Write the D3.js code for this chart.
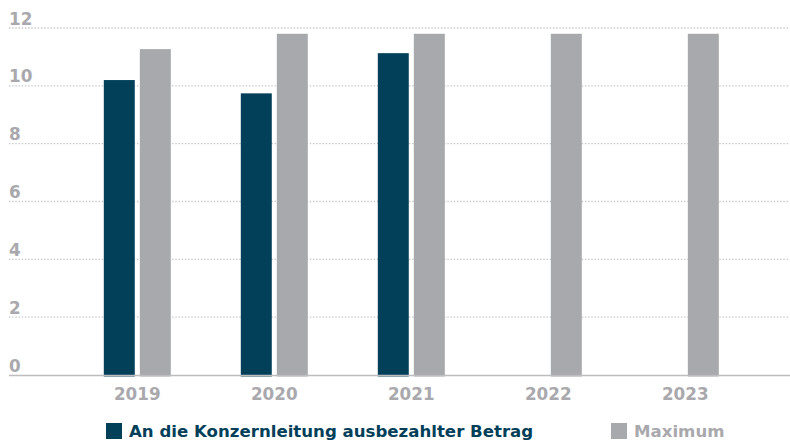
<!DOCTYPE html>
<html>
<head>
<meta charset="utf-8">
<script src="https://cdn.jsdelivr.net/npm/d3@7"></script>
<style>
  body { margin: 0; background: #fff; }
  svg { display: block; font-family: "DejaVu Sans", sans-serif; }
</style>
</head>
<body>
<div id="chart"></div>
<script>
// data
const years = ["2019", "2020", "2021", "2022", "2023"];
const paidValues = [10.2, 9.74, 11.13, null, null];
const maxValues = [11.27, 11.8, 11.8, 11.8, 11.8];
const yTicks = [0, 2, 4, 6, 8, 10, 12];
const seriesNames = ["An die Konzernleitung ausbezahlter Betrag", "Maximum"];

const colorPaid = "#02405a";
const colorMax = "#a8a9ac";
const colorText = "#a9a9ad";

const width = 790, height = 440;
const margin = {top: 28, right: 0, bottom: 65, left: 9};
const baseY = height - margin.bottom;

const svg = d3.select("#chart").append("svg")
    .attr("width", width)
    .attr("height", height);

const x = d3.scaleBand()
    .domain(years)
    .range([68.8, 753.8])
    .padding(0);

const xInner = d3.scaleBand()
    .domain(["paid", "max"])
    .range([-33.5, 33.5])
    .paddingInner(0.14);

const y = d3.scaleLinear()
    .domain([0, 12])
    .range([baseY, margin.top]);

// dotted gridlines
svg.append("g").selectAll("line")
    .data(yTicks.filter(d => d > 0))
    .enter().append("line")
    .attr("x1", margin.left)
    .attr("x2", width)
    .attr("y1", d => y(d))
    .attr("y2", d => y(d))
    .attr("stroke", "#c2c2c5")
    .attr("stroke-width", 1.3)
    .attr("stroke-dasharray", "1.3,1.9");

// y labels sit above the lines
svg.append("g").selectAll("text")
    .data(yTicks)
    .enter().append("text")
    .attr("x", 9)
    .attr("y", d => y(d) - 3.5)
    .attr("fill", colorText)
    .attr("font-size", 16.8)
    .attr("font-weight", 700)
    .text(d => d);

const rows = years.map((yr, i) => ({year: yr, paid: paidValues[i], max: maxValues[i]}));

const groups = svg.append("g").selectAll("g")
    .data(rows)
    .enter().append("g")
    .attr("transform", d => "translate(" + (x(d.year) + x.bandwidth() / 2) + ",0)");

groups.filter(d => d.paid != null).append("rect")
    .attr("x", xInner("paid"))
    .attr("y", d => y(d.paid))
    .attr("width", xInner.bandwidth())
    .attr("height", d => baseY + 1.5 - y(d.paid))
    .attr("fill", colorPaid);

groups.append("rect")
    .attr("x", xInner("max"))
    .attr("y", d => y(d.max))
    .attr("width", xInner.bandwidth())
    .attr("height", d => baseY + 1.5 - y(d.max))
    .attr("fill", colorMax);

// baseline
svg.append("line")
    .attr("x1", margin.left)
    .attr("x2", width)
    .attr("y1", baseY + 0.5)
    .attr("y2", baseY + 0.5)
    .attr("stroke", "#bdbdc0")
    .attr("stroke-width", 1.5);

// x labels
svg.append("g").selectAll("text")
    .data(years)
    .enter().append("text")
    .attr("x", d => x(d) + x.bandwidth() / 2)
    .attr("y", baseY + 24.5)
    .attr("text-anchor", "middle")
    .attr("fill", colorText)
    .attr("font-size", 16.8)
    .attr("font-weight", 700)
    .text(d => d);

// legend
const legend = svg.append("g");
const legendItems = [
    {name: seriesNames[0], color: colorPaid, textColor: colorPaid, x: 106},
    {name: seriesNames[1], color: colorMax, textColor: colorText, x: 611}
];
legendItems.forEach(item => {
    legend.append("rect")
        .attr("x", item.x)
        .attr("y", 423)
        .attr("width", 16)
        .attr("height", 16)
        .attr("fill", item.color);
    legend.append("text")
        .attr("x", item.x + 23)
        .attr("y", 436.5)
        .attr("fill", item.textColor)
        .attr("font-size", 16.6)
        .attr("font-weight", 700)
        .text(item.name);
});
</script>
</body>
</html>
